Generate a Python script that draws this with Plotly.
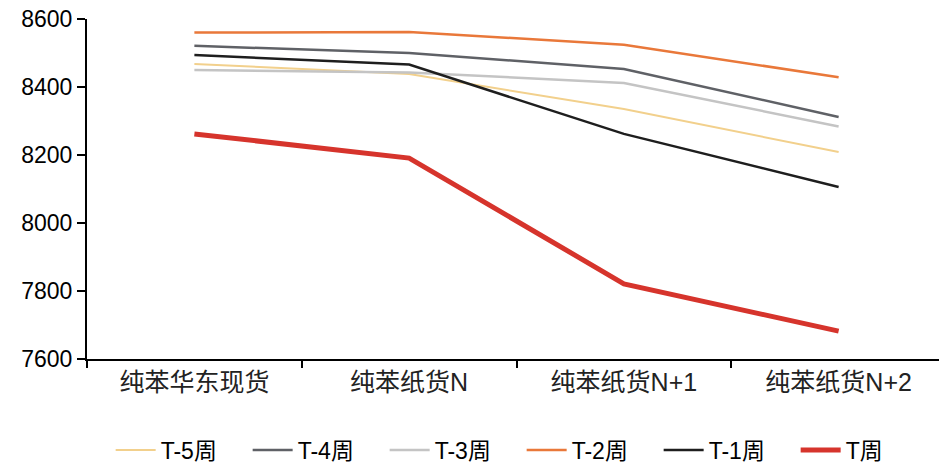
import plotly.graph_objects as go

categories = ["纯苯华东现货", "纯苯纸货N", "纯苯纸货N+1", "纯苯纸货N+2"]
series_names = ["T-5周", "T-4周", "T-3周", "T-2周", "T-1周", "T周"]
t5 = [8468, 8438, 8335, 8209]
t4 = [8521, 8500, 8453, 8312]
t3 = [8450, 8443, 8412, 8284]
t2 = [8560, 8562, 8524, 8429]
t1 = [8494, 8466, 8262, 8106]
t0 = [8262, 8191, 7821, 7682]
y_ticks = [7600, 7800, 8000, 8200, 8400, 8600]

series = [t5, t4, t3, t2, t1, t0]
colors = ["#F2D08C", "#5F6166", "#C4C4C4", "#E9783A", "#1E1E1E", "#D6342C"]
widths = [2, 2.5, 2.5, 2.5, 2.5, 5]

fig = go.Figure()
for name, vals, c, w in zip(series_names, series, colors, widths):
    fig.add_trace(go.Scatter(x=categories, y=vals, name=name, mode="lines",
                             line=dict(color=c, width=w)))

font_family = "Liberation Sans, Arial, Noto Sans CJK SC, sans-serif"
# page body has an 8px default margin, so the figure is sized to fit the window
fig.update_layout(
    width=939, height=456,
    margin=dict(l=79, r=1, t=11, b=105, autoexpand=False),
    paper_bgcolor="white", plot_bgcolor="white",
    font=dict(family=font_family, color="#000000"),
    showlegend=True,
    legend=dict(orientation="h", x=0.506, xanchor="center", y=-0.268, yanchor="middle",
                font=dict(size=23, family=font_family), itemwidth=40,
                entrywidth=82, entrywidthmode="pixels",
                traceorder="normal", itemsizing="trace"),
)
fig.update_xaxes(
    type="category", range=[-0.5, 3.5], tickson="boundaries",
    showline=True, linecolor="black", linewidth=2,
    ticks="outside", ticklen=7, tickwidth=2, tickcolor="black",
    showgrid=False, zeroline=False, automargin=False,
    tickfont=dict(size=25, family=font_family, color="#222222"),
)
fig.update_yaxes(
    range=[7600, 8600], tickvals=y_ticks,
    showline=True, linecolor="black", linewidth=2,
    ticks="outside", ticklen=8, tickwidth=2, tickcolor="black",
    showgrid=False, zeroline=False, automargin=False,
    ticklabeloverflow="allow",
    tickfont=dict(size=23, family=font_family),
)
fig.write_html("out.html")
